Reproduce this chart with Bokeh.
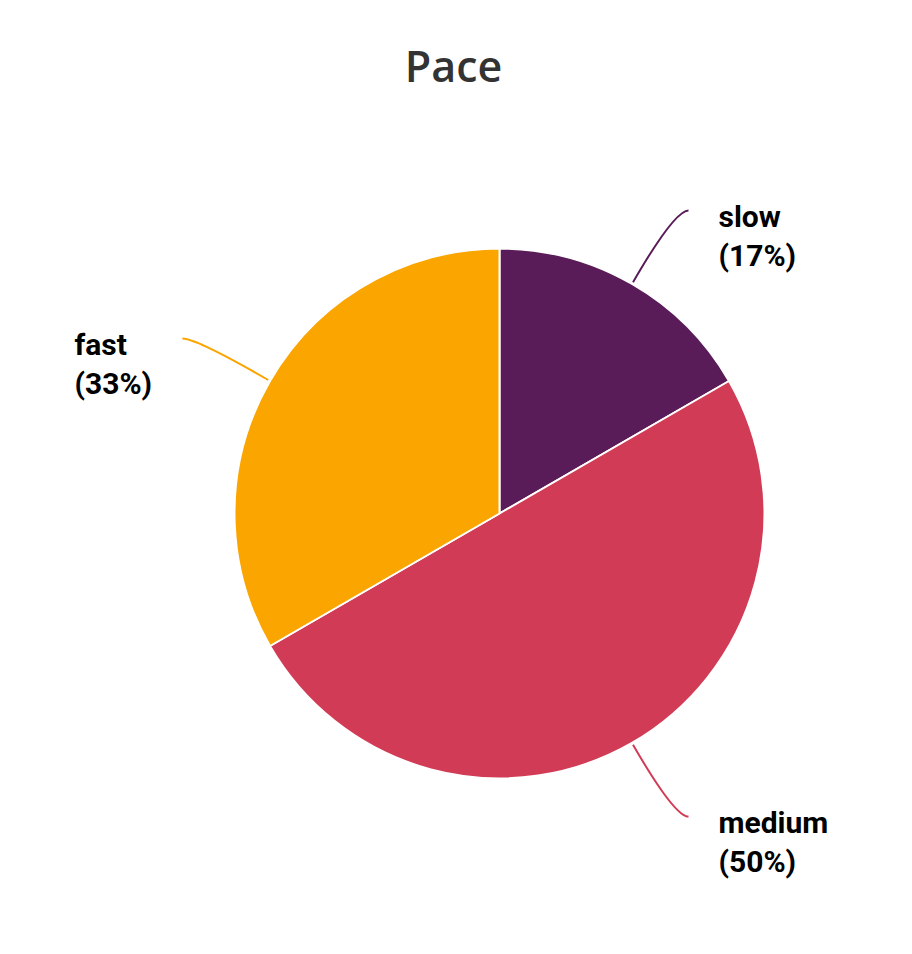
import math
from bokeh.plotting import figure
from bokeh.models import Range1d
from bokeh.core.properties import value
from bokeh.embed import file_html
from bokeh.resources import INLINE

# Data
categories = ["slow", "medium", "fast"]
counts = [1, 3, 2]
colors = ["#5a1b59", "#d13b55", "#fba500"]
title_text = "Pace"

W, H = 896, 938
p = figure(width=W, height=H, output_backend="svg", toolbar_location=None,
           x_range=Range1d(0, W), y_range=Range1d(0, H), min_border=0)
p.axis.visible = False
p.grid.visible = False
p.outline_line_color = None
p.background_fill_color = "white"
p.border_fill_color = "white"

cx, cy, R = 499, 425, 265
total = sum(counts)
fracs = [c / total for c in counts]

start = math.pi / 2
starts, ends, mids = [], [], []
for f in fracs:
    end = start - f * 2 * math.pi
    starts.append(start)
    ends.append(end)
    mids.append((start + end) / 2)
    start = end

p.wedge(x=[cx] * 3, y=[cy] * 3, radius=R, start_angle=starts, end_angle=ends,
        direction="clock", fill_color=colors, line_color="white", line_width=2)

# connectors and labels
for cat, f, m, col in zip(categories, fracs, mids, colors):
    ca, sa = math.cos(m), math.sin(m)
    x0, y0 = cx + (R + 2) * ca, cy + (R + 2) * sa
    ey = cy + 350 * sa
    side = 1 if ca >= 0 else -1
    ex = cx + 350 * ca + side * 14
    t = (ey - y0) / sa
    qx = x0 + t * ca
    p.quadratic(x0=[x0], y0=[y0], x1=[ex], y1=[ey], cx=[qx], cy=[ey],
                line_color=col, line_width=2)
    tx = ex + 30 if side > 0 else 74
    pct = "(%d%%)" % round(f * 100)
    p.text(x=[tx, tx], y=[ey - 6, ey - 45], text=[cat, pct],
           text_font=value("Roboto"), text_font_style="bold",
           text_font_size="30px", text_color="#000000",
           text_align="left", text_baseline="middle")

p.text(x=[453], y=[873], text=[title_text], text_font=value("Open Sans SemiBold"),
       text_font_style="normal", text_font_size="43px", text_color="#333333",
       text_align="center", text_baseline="middle")

open("out.html", "w").write(file_html(p, INLINE))
